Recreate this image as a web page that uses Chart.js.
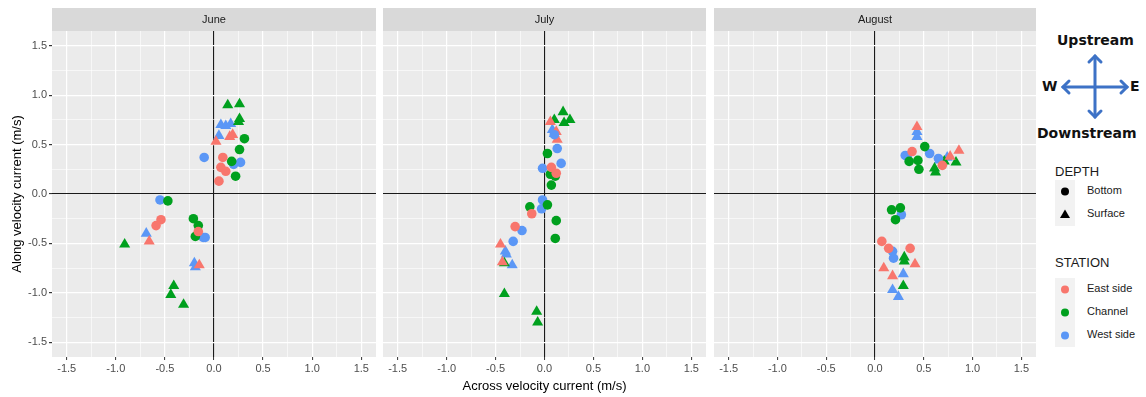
<!DOCTYPE html>
<html>
<head>
<meta charset="utf-8">
<script src="https://cdn.jsdelivr.net/npm/chart.js@4"></script>
<style>
  body { margin: 0; background: #fff; width: 1146px; height: 397px; overflow: hidden; font-family: "Liberation Sans", Arial, sans-serif; }
  .panel { position: absolute; top: 0; height: 397px; }
  #legend { position: absolute; left: 1036px; top: 0; width: 110px; height: 397px; }
  .lg-title { position: absolute; left: 19px; font-size: 13px; color: #1a1a1a; }
  .lg-item { position: absolute; left: 51px; font-size: 11px; color: #1a1a1a; }
  .keybox { position: absolute; left: 19px; width: 20px; background: #f2f2f2; }
  .compass { position: absolute; font-family: "DejaVu Sans", sans-serif; font-weight: bold; font-size: 14px; color: #111; white-space: nowrap; }
</style>
</head>
<body>
<div class="panel" style="left:0;width:376px"><canvas id="june"></canvas></div>
<div class="panel" style="left:383px;width:323px"><canvas id="july"></canvas></div>
<div class="panel" style="left:714px;width:322px"><canvas id="august"></canvas></div>

<div id="legend">
  <div class="compass" style="left:21px;top:32px">Upstream</div>
  <div class="compass" style="left:6px;top:78px">W</div>
  <div class="compass" style="left:94px;top:78px">E</div>
  <div class="compass" style="left:1px;top:125px">Downstream</div>
  <svg style="position:absolute;left:0;top:0" width="110" height="160">
    <g stroke="#3d72c6" stroke-width="3" fill="none" stroke-linecap="round">
      <line x1="59" y1="56" x2="59" y2="117"/>
      <line x1="27" y1="87" x2="91" y2="87"/>
      <polyline points="53,62 59,56 65,62"/>
      <polyline points="53,111 59,117 65,111"/>
      <polyline points="33,81 27,87 33,93"/>
      <polyline points="85,81 91,87 85,93"/>
    </g>
  </svg>
  <div class="lg-title" style="top:164px">DEPTH</div>
  <div class="keybox" style="top:180px;height:46px"></div>
  <svg style="position:absolute;left:19px;top:180px" width="20" height="46">
    <circle cx="10" cy="11.5" r="4" fill="#000"/>
    <polygon points="10,29.5 15,38 5,38" fill="#000"/>
  </svg>
  <div class="lg-item" style="top:184px">Bottom</div>
  <div class="lg-item" style="top:207px">Surface</div>
  <div class="lg-title" style="top:255px">STATION</div>
  <div class="keybox" style="top:278px;height:69px"></div>
  <svg style="position:absolute;left:19px;top:278px" width="20" height="69">
    <circle cx="10" cy="11.5" r="4" fill="#F8766D"/>
    <circle cx="10" cy="34.5" r="4" fill="#00A01E"/>
    <circle cx="10" cy="57.5" r="4" fill="#5B97F6"/>
  </svg>
  <div class="lg-item" style="top:282px">East side</div>
  <div class="lg-item" style="top:305px">Channel</div>
  <div class="lg-item" style="top:328px">West side</div>
</div>

<script>
// tick values (0.25 steps, labels on 0.5)
const tickValues = [-1.5, -1.25, -1, -0.75, -0.5, -0.25, 0, 0.25, 0.5, 0.75, 1, 1.25, 1.5];
const months = ["June", "July", "August"];
const stations = ["East side", "Channel", "West side"];
const depths = ["Bottom", "Surface"];
const stationColors = ["#F8766D", "#00A01E", "#5B97F6"];

// [across, along] in m/s
const juneEastBottom = [[0.09,0.37],[0.07,0.27],[0.12,0.23],[0.05,0.13],[-0.54,-0.26],[-0.59,-0.32],[-0.16,-0.38]];
const juneEastSurface = [[0.02,0.53],[0.16,0.58],[0.19,0.60],[-0.66,-0.48],[-0.15,-0.72]];
const juneChannelBottom = [[0.31,0.56],[0.26,0.45],[0.18,0.33],[0.22,0.18],[-0.47,-0.07],[-0.21,-0.25],[-0.16,-0.32],[-0.19,-0.43]];
const juneChannelSurface = [[0.14,0.90],[0.26,0.91],[0.26,0.76],[0.25,0.73],[-0.91,-0.51],[-0.41,-0.93],[-0.44,-1.02],[-0.31,-1.12]];
const juneWestBottom = [[-0.10,0.37],[0.20,0.30],[0.27,0.32],[-0.55,-0.06],[-0.11,-0.44],[-0.09,-0.44]];
const juneWestSurface = [[0.07,0.70],[0.12,0.69],[0.17,0.71],[0.05,0.59],[-0.69,-0.40],[-0.20,-0.70],[-0.19,-0.74]];

const julyEastBottom = [[0.07,0.27],[0.12,0.21],[-0.13,-0.20],[-0.30,-0.33]];
const julyEastSurface = [[0.06,0.73],[0.13,0.55],[0.12,0.63],[-0.45,-0.51],[-0.43,-0.69]];
const julyChannelBottom = [[0.03,0.41],[0.06,0.20],[0.11,0.18],[0.07,0.09],[-0.15,-0.13],[0.03,-0.11],[0.12,-0.27],[0.11,-0.45]];
const julyChannelSurface = [[0.19,0.83],[0.26,0.75],[0.20,0.72],[0.10,0.75],[-0.41,-0.70],[-0.41,-1.01],[-0.08,-1.19],[-0.07,-1.30]];
const julyWestBottom = [[0.13,0.46],[-0.02,0.26],[0.17,0.31],[-0.02,-0.06],[-0.03,-0.15],[-0.23,-0.37],[-0.32,-0.48],[0.10,0.60]];
const julyWestSurface = [[0.08,0.65],[0.10,0.61],[-0.40,-0.58],[-0.39,-0.61],[-0.33,-0.72]];

const augustEastBottom = [[0.38,0.43],[0.69,0.29],[0.07,-0.48],[0.14,-0.55],[0.36,-0.55]];
const augustEastSurface = [[0.43,0.68],[0.86,0.44],[0.77,0.38],[0.09,-0.75],[0.18,-0.83],[0.41,-0.71]];
const augustChannelBottom = [[0.51,0.48],[0.35,0.33],[0.44,0.34],[0.45,0.25],[0.17,-0.16],[0.26,-0.14],[0.21,-0.26]];
const augustChannelSurface = [[0.71,0.33],[0.83,0.32],[0.61,0.26],[0.62,0.22],[0.30,-0.64],[0.30,-0.68],[0.29,-0.93]];
const augustWestBottom = [[0.31,0.39],[0.33,0.38],[0.56,0.41],[0.65,0.36],[0.27,-0.21],[0.18,-0.58],[0.19,-0.65]];
const augustWestSurface = [[0.43,0.63],[0.43,0.58],[0.74,0.37],[0.66,0.34],[0.29,-0.81],[0.18,-0.97],[0.24,-1.04]];

const monthData = {
  June: [[juneEastBottom, juneEastSurface], [juneChannelBottom, juneChannelSurface], [juneWestBottom, juneWestSurface]],
  July: [[julyEastBottom, julyEastSurface], [julyChannelBottom, julyChannelSurface], [julyWestBottom, julyWestSurface]],
  August: [[augustEastBottom, augustEastSurface], [augustChannelBottom, augustChannelSurface], [augustWestBottom, augustWestSurface]]
};

const fontFamily = '"Liberation Sans", Arial, sans-serif';

// grey panel background + facet strip
const panelPlugin = {
  id: "panel",
  beforeDraw(chart, args, opts) {
    const { ctx, chartArea: a } = chart;
    ctx.save();
    ctx.fillStyle = "#EBEBEB";
    ctx.fillRect(a.left, a.top, a.right - a.left, a.bottom - a.top);
    ctx.fillStyle = "#D9D9D9";
    ctx.fillRect(a.left, 8, a.right - a.left, a.top - 8);
    ctx.fillStyle = "#1A1A1A";
    ctx.font = "11px " + fontFamily;
    ctx.textAlign = "center";
    ctx.textBaseline = "middle";
    ctx.fillText(opts.text, (a.left + a.right) / 2, 8 + (a.top - 8) / 2);
    ctx.restore();
  }
};

function isMajor(v) {
  return Math.abs(v * 2 - Math.round(v * 2)) < 1e-9;
}
function gridColor(ctx) {
  const v = ctx.tick && ctx.tick.value;
  if (Math.abs(v) < 1e-9) return "#1a1a1a";
  return "#FFFFFF";
}
function gridWidth(ctx) {
  const v = ctx.tick && ctx.tick.value;
  if (Math.abs(v) < 1e-9) return 1.1;
  return isMajor(v) ? 1.2 : 0.6;
}
function tickColor(ctx) {
  const v = ctx.tick && ctx.tick.value;
  return isMajor(v) ? "#333333" : "rgba(0,0,0,0)";
}
function tickLabel(v) {
  return isMajor(v) ? v.toFixed(1) : "";
}

function makeChart(id, month, idx) {
  const datasets = [];
  depths.forEach((depth, d) => {
    stations.forEach((station, s) => {
      datasets.push({
        label: station + " " + depth,
        data: monthData[month][s][d].map(p => ({ x: p[0], y: p[1] })),
        pointStyle: depth === "Bottom" ? "circle" : "triangle",
        pointRadius: depth === "Bottom" ? 4.8 : 6.4,
        backgroundColor: stationColors[s],
        borderColor: stationColors[s],
        borderWidth: 0
      });
    });
  });

  new Chart(document.getElementById(id), {
    type: "scatter",
    data: { datasets },
    plugins: [panelPlugin],
    options: {
      responsive: true,
      maintainAspectRatio: false,
      animation: false,
      layout: { autoPadding: false, padding: { top: 31, left: 0, right: 0, bottom: 0 } },
      plugins: {
        legend: { display: false },
        tooltip: { enabled: false },
        panel: { text: month }
      },
      scales: {
        x: {
          type: "linear",
          min: -1.65,
          max: 1.65,
          afterBuildTicks: s => { s.ticks = tickValues.map(v => ({ value: v })); },
          afterFit: s => { s.height = 40; s.paddingLeft = 0; s.paddingRight = 0; },
          border: { display: false },
          grid: { color: gridColor, lineWidth: gridWidth, tickColor: tickColor, tickLength: 3, tickWidth: 1 },
          ticks: { autoSkip: false, maxRotation: 0, padding: 2, color: "#4D4D4D", font: { family: fontFamily, size: 11 }, callback: tickLabel },
          title: { display: idx === 1, text: "Across velocity current (m/s)", color: "#000", font: { family: fontFamily, size: 13 }, padding: { top: 0, bottom: 3 } }
        },
        y: {
          type: "linear",
          min: -1.65,
          max: 1.65,
          afterBuildTicks: s => { s.ticks = tickValues.map(v => ({ value: v })); },
          afterFit: s => { s.width = idx === 0 ? 52 : 0; s.paddingTop = 0; s.paddingBottom = 0; },
          border: { display: false },
          grid: { color: gridColor, lineWidth: gridWidth, tickColor: tickColor, tickLength: idx === 0 ? 3 : 0, drawTicks: idx === 0 },
          ticks: { display: idx === 0, autoSkip: false, padding: 2, color: "#4D4D4D", font: { family: fontFamily, size: 11 }, callback: tickLabel },
          title: { display: idx === 0, text: "Along velocity current (m/s)", color: "#000", font: { family: fontFamily, size: 13 }, padding: { top: 10, bottom: 0 } }
        }
      }
    }
  });
}

months.forEach((m, i) => makeChart(m.toLowerCase(), m, i));
</script>
</body>
</html>
